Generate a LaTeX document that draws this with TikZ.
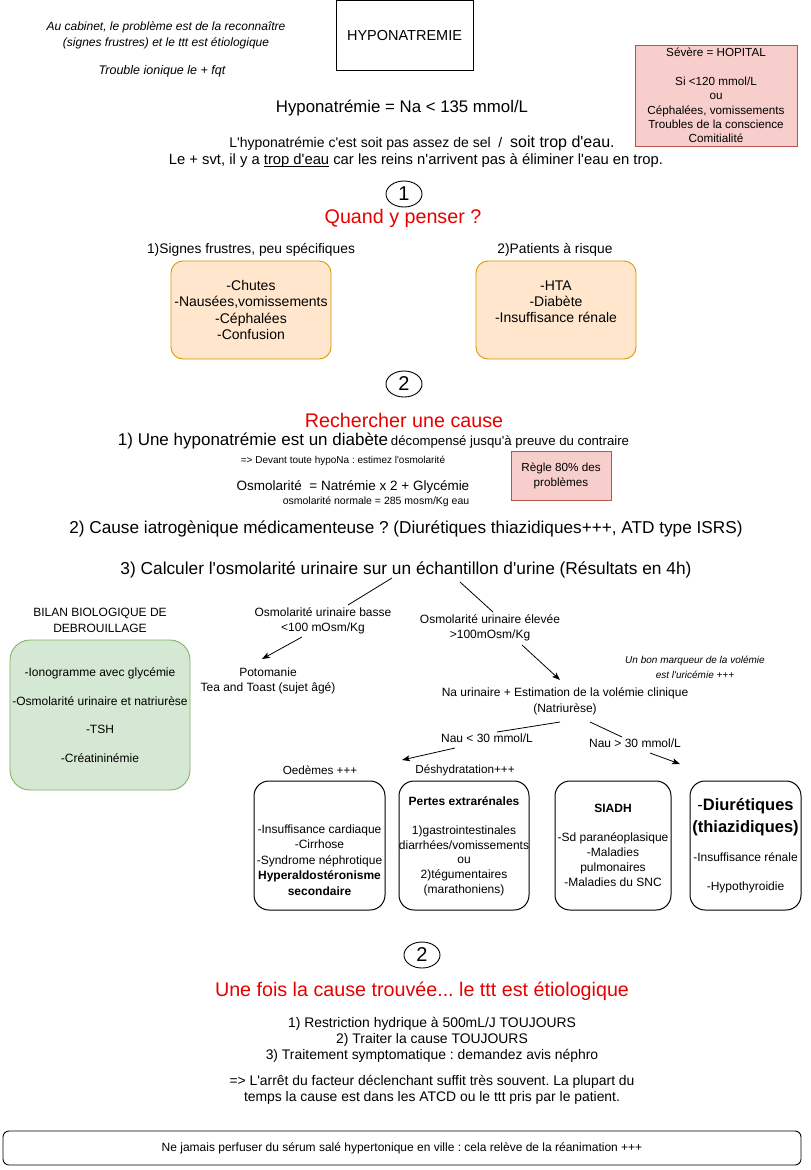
\documentclass[tikz,border=0pt]{standalone}
\usepackage{fontspec}
\setmainfont{Liberation Sans}[Ligatures=TeXOff]
\usetikzlibrary{shapes.geometric,arrows.meta,calc}
\definecolor{redfill}{HTML}{F8CECC}
\definecolor{redline}{HTML}{B85450}
\definecolor{orfill}{HTML}{FFE6CC}
\definecolor{orline}{HTML}{D79B00}
\definecolor{grfill}{HTML}{D5E8D4}
\definecolor{grline}{HTML}{82B366}
\definecolor{titred}{HTML}{E60000}
\newcommand\fz[2]{\fontsize{#1}{#2}\selectfont}
\newcommand\myul[1]{\setbox0\hbox{#1}\rlap{\rule[-1.7pt]{\wd0}{0.7pt}}\box0\relax}
\frenchspacing
\begin{document}
\begin{tikzpicture}[x=1pt,y=-1pt,
  txt/.style={inner sep=0pt, align=center},
  circ/.style={draw, ellipse, minimum width=36, minimum height=26, inner sep=0pt, line width=0.9pt, font=\fz{20}{24}},
  ttl/.style={inner sep=0pt, align=center, text=titred, font=\fz{19.7}{23}},
  orbox/.style={draw=orline, fill=orfill, rounded corners=12, minimum width=160, minimum height=98, align=center, inner sep=0pt, line width=0.9pt, font=\fz{14}{16.3}},
  pinkbox/.style={draw=redline, fill=redfill, align=center, inner sep=0pt, line width=0.9pt},
  bbox/.style={draw, rounded corners=15, minimum height=129, inner sep=0pt, line width=1pt},
  conn/.style={line width=0.8pt},
  arr/.style={line width=0.8pt, -{Stealth[length=8pt,width=6pt,inset=2pt]}}
]
\useasboundingbox (0,0) rectangle (811,1170);
\fill[white] (0,0) rectangle (811,1170);

% top
\node[txt, font=\fz{12}{16}\itshape] (intro) at (166,35) {Au cabinet, le problème est de la reconnaître\\(signes frustres) et le ttt est étiologique};
\node[txt, font=\fz{12.5}{14}\itshape] (fqt) at (162,71) {Trouble ionique le + fqt};
\node[draw, line width=0.9pt, minimum width=137, minimum height=70, inner sep=0pt, font=\fz{14.5}{17}] (title) at (404.5,35.5) {HYPONATREMIE};
\node[pinkbox, minimum width=162, minimum height=101, font=\fz{11.7}{14.3}] (severe) at (716,95.5) {Sévère = HOPITAL\\\mbox{}\\Si <120 mmol/L\\ou\\Céphalées, vomissements\\Troubles de la conscience\\Comitialité};
\node[txt, font=\fz{16.8}{20}] (def) at (402,108) {Hyponatrémie = Na < 135 mmol/L};
\node[txt] (sel) at (422,143) {{\fz{14}{16}L'hyponatrémie c'est soit pas assez de sel \ / \ }{\fz{16}{18}soit trop d'eau.}};
\node[txt, font=\fz{14.8}{17}] (svt) at (416,161) {Le + svt, il y a \myul{trop d'eau} car les reins n'arrivent pas à éliminer l'eau en trop.};

% section 1
\node[circ] (n1) at (404,194) {1};
\node[ttl] (quand) at (403,218) {Quand y penser ?};
\node[txt, font=\fz{13.8}{16}] (sig) at (251,250) {1)Signes frustres, peu spécifiques};
\node[txt, font=\fz{13.8}{16}] (pat) at (555,250) {2)Patients à risque};
\node[orbox] (sigbox) at (251,310) {-Chutes\\-Nausées,vomissements\\-Céphalées\\-Confusion};
\node[orbox] (patbox) at (556,310) {-HTA\\-Diabète\\-Insuffisance rénale\\\mbox{}};

% section 2
\node[circ] (n2) at (404,384) {2};
\node[ttl] (rech) at (404,420) {Rechercher une cause};
\node[txt] (diab) at (373.5,441) {{\fz{17}{19}1) Une hyponatrémie est un diabète} {\fz{13.2}{15}décompensé jusqu'à preuve du contraire}};
\node[txt, font=\fz{10}{12}] (devant) at (343,461) {=> Devant toute hypoNa : estimez l'osmolarité};
\node[pinkbox, minimum width=100, minimum height=49, font=\fz{11.7}{15}] (regle) at (561,475.5) {Règle 80\% des\\problèmes};
\node[txt, font=\fz{13.5}{16}] (osmo) at (353,487) {Osmolarité \ = Natrémie x 2 + Glycémie};
\node[txt, font=\fz{10.5}{12}] (norm) at (376,502) {osmolarité normale = 285 mosm/Kg eau};
\node[txt, font=\fz{17.2}{19}] (iatro) at (406,529) {2) Cause iatrogènique médicamenteuse ? (Diurétiques thiazidiques+++, ATD type ISRS)};
\node[txt, font=\fz{17.3}{19}] (calc) at (406,570) {3) Calculer l'osmolarité urinaire sur un échantillon d'urine (Résultats en 4h)};

% bilan
\node[txt, font=\fz{12}{16}] (bilan) at (100,620) {BILAN BIOLOGIQUE DE\\DEBROUILLAGE};
\node[draw=grline, fill=grfill, rounded corners=20, minimum width=180, minimum height=150, inner sep=0pt, line width=0.9pt, align=center, font=\fz{12}{14.35}] (bilanbox) at (100,715) {-Ionogramme avec glycémie\\\mbox{}\\-Osmolarité urinaire et natriurèse\\\mbox{}\\-TSH\\\mbox{}\\-Créatininémie};

% tree
\node[txt, font=\fz{12}{15}] (basse) at (323,620.5) {Osmolarité urinaire basse\\<100 mOsm/Kg};
\node[txt, font=\fz{12}{15}] (poto) at (268,681) {Potomanie\\Tea and Toast (sujet âgé)};
\node[txt, font=\fz{12}{15}] (elev) at (490,627.5) {Osmolarité urinaire élevée\\>100mOsm/Kg};
\node[txt, font=\fz{10}{15}\itshape] (uric) at (695,667.5) {Un bon marqueur de la volémie\\est l'uricémie +++};
\node[txt, font=\fz{12}{16}] (naur) at (565,701) {Na urinaire + Estimation de la volémie clinique\\(Natriurèse)};
\node[txt, font=\fz{12}{14}] (nauinf) at (487,738) {Nau < 30 mmol/L};
\node[txt, font=\fz{12}{14}] (nausup) at (635,743) {Nau > 30 mmol/L};
\node[txt, font=\fz{11.7}{14}] (oed) at (320,770) {Oedèmes +++};
\node[txt, font=\fz{11.7}{14}] (desh) at (465,770) {Déshydratation+++};

\coordinate (c1a) at (392,578); \coordinate (c1b) at (348,605);
\coordinate (c2a) at (302,637); \coordinate (c2b) at (262,659);
\coordinate (c3a) at (460,582); \coordinate (c3b) at (493,612);
\coordinate (c4a) at (522,645); \coordinate (c4b) at (560,680);
\coordinate (c5a) at (560,722); \coordinate (c5b) at (497,732);
\coordinate (c6a) at (455,748); \coordinate (c6b) at (402,760);
\coordinate (c7a) at (590,722); \coordinate (c7b) at (622,737);
\coordinate (c8a) at (650,753); \coordinate (c8b) at (680,764);
\draw[conn] (c1a) -- (c1b);
\draw[arr] (c2a) -- (c2b);
\draw[conn] (c3a) -- (c3b);
\draw[arr] (c4a) -- (c4b);
\draw[conn] (c5a) -- (c5b);
\draw[arr] (c6a) -- (c6b);
\draw[conn] (c7a) -- (c7b);
\draw[arr] (c8a) -- (c8b);

% boxes
\node[bbox, minimum width=131] (b1) at (319.5,845.5) {};
\node[bbox, minimum width=130] (b2) at (464,845.5) {};
\node[bbox, minimum width=116] (b3) at (613,845.5) {};
\node[bbox, minimum width=111] (b4) at (745.5,845.5) {};
\node[txt, font=\fz{12}{15.5}] (b1t) at (319.5,860) {-Insuffisance cardiaque\\-Cirrhose\\-Syndrome néphrotique\\\textbf{Hyperaldostéronisme}\\\textbf{secondaire}};
\node[txt, font=\fz{12}{14.7}] (b2t) at (464,846) {\textbf{Pertes extrarénales}\\\mbox{}\\1)gastrointestinales\\diarrhées/vomissements\\ou\\2)tégumentaires\\(marathoniens)};
\node[txt, font=\fz{12}{14.8}] (b3t) at (613,845) {\textbf{SIADH}\\\mbox{}\\-Sd paranéoplasique\\-Maladies\\pulmonaires\\-Maladies du SNC};
\node[txt, font=\fz{16.5}{22}] (b4a) at (745.5,817) {-\textbf{Diurétiques}\\\textbf{(thiazidiques)}};
\node[txt, font=\fz{12}{14.5}] (b4b) at (745.5,872.5) {-Insuffisance rénale\\\mbox{}\\-Hypothyroidie};

% section 3
\node[circ] (n3) at (422,955) {2};
\node[ttl] (fois) at (422,991) {Une fois la cause trouvée... le ttt est étiologique};
\node[txt, font=\fz{13.9}{16}] (ttt) at (432,1040) {1) Restriction hydrique à 500mL/J TOUJOURS\\2) Traiter la cause TOUJOURS\\3) Traitement symptomatique : demandez avis néphro};
\node[txt, font=\fz{13.9}{16}] (arret) at (432,1090) {=> L'arrêt du facteur déclenchant suffit très souvent. La plupart du\\temps la cause est dans les ATCD ou le ttt pris par le patient.};
\node[draw, rounded corners=6, minimum width=798, minimum height=34, inner sep=0pt, line width=0.9pt, font=\fz{12}{14}] (warn) at (402,1148) {Ne jamais perfuser du sérum salé hypertonique en ville : cela relève de la réanimation +++};
\end{tikzpicture}
\end{document}
